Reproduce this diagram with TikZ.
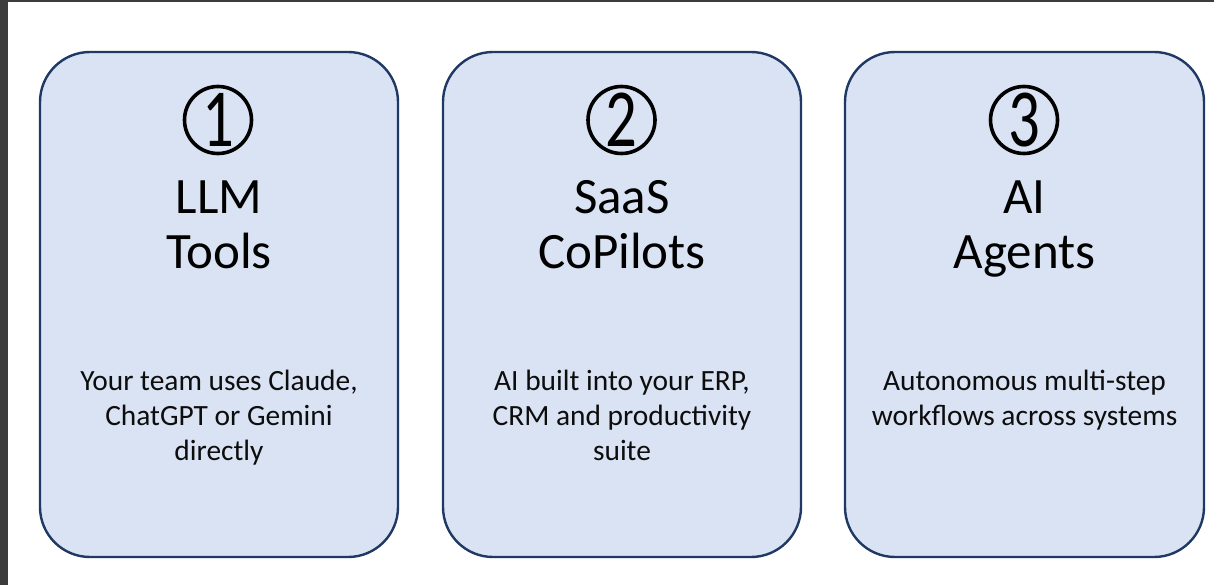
\documentclass[tikz,border=0pt]{standalone}
\usepackage{fontspec}
\setmainfont{Carlito}
\definecolor{boxfill}{HTML}{DAE3F3}
\definecolor{boxline}{HTML}{1F3864}
\definecolor{frame}{HTML}{3C3C3C}
\newcommand{\cnum}[1]{\scalebox{0.95}[1.25]{\fontsize{66}{66}\selectfont #1}}
\tikzset{
  card/.style={draw=boxline, fill=boxfill, line width=2.4pt, rounded corners=50pt},
  numcirc/.style={circle, draw=black, line width=3.6pt, minimum size=67pt, inner sep=0pt},
  titletext/.style={anchor=base, inner sep=0pt, font=\fontsize{51}{56}\selectfont},
  bodytext/.style={anchor=base, inner sep=0pt, font=\fontsize{29.4}{35}\selectfont, text=black!95},
}
\begin{document}
\begin{tikzpicture}[x=1pt,y=-1pt]
\useasboundingbox (0,0) rectangle (1214,585);
\fill[white] (0,0) rectangle (1214,585);
\fill[frame] (0,0) rectangle (1214,2);
\fill[frame] (0,0) rectangle (8,585);
% cards
\draw[card] (40,52) rectangle (398,557);
\draw[card] (443,52) rectangle (801,557);
\draw[card] (845,52) rectangle (1204,557);
% card 1
\node[numcirc]   (n1)  at (218,120) {\cnum{1}};
\node[titletext] (t1a) at (219,214) {LLM};
\node[titletext] (t1b) at (219,269) {Tools};
\node[bodytext]  (b1a) at (219,390) {Your team uses Claude,};
\node[bodytext]  (b1b) at (219,425) {ChatGPT or Gemini};
\node[bodytext]  (b1c) at (219,460) {directly};
% card 2
\node[numcirc]   (n2)  at (621.5,120) {\cnum{2}};
\node[titletext] (t2a) at (622,214) {SaaS};
\node[titletext] (t2b) at (622,269) {CoPilots};
\node[bodytext]  (b2a) at (622,390) {AI built into your ERP,};
\node[bodytext]  (b2b) at (622,425) {CRM and productivity};
\node[bodytext]  (b2c) at (622,460) {suite};
% card 3
\node[numcirc]   (n3)  at (1024,120) {\cnum{3}};
\node[titletext] (t3a) at (1024.5,214) {AI};
\node[titletext] (t3b) at (1024.5,269) {Agents};
\node[bodytext]  (b3a) at (1024.5,390) {Autonomous multi-step};
\node[bodytext]  (b3b) at (1024.5,425) {workflows across systems};
\end{tikzpicture}
\end{document}
